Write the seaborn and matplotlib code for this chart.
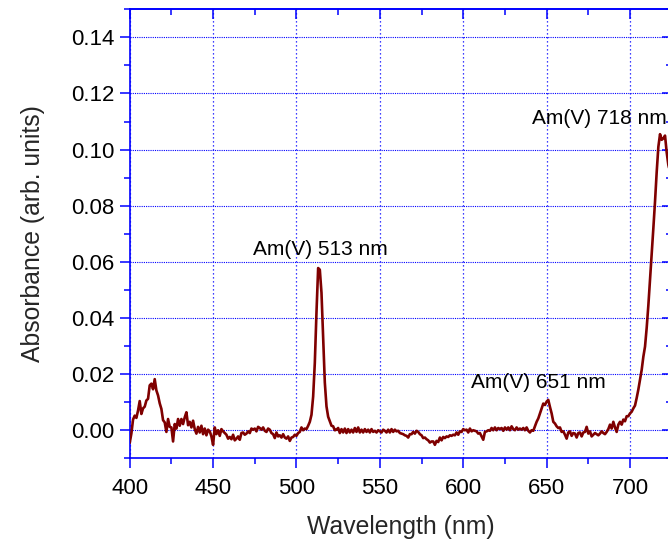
import numpy as np
import pandas as pd
import matplotlib
matplotlib.use("Agg")
import matplotlib.pyplot as plt
from matplotlib.ticker import MultipleLocator
import seaborn as sns

# Absorption spectrum of Am(V), sampled every 1 nm from 400 to 724 nm
wavelength_start = 400
absorbance = [
    # 400-409
    -0.0045, -0.0012, 0.0038, 0.0052, 0.0044, 0.0070, 0.0104, 0.0058, 0.0078, 0.0084,
    # 410-419
    0.0106, 0.0112, 0.0160, 0.0166, 0.0146, 0.0182, 0.0142, 0.0124, 0.0096, 0.0076,
    # 420-429
    0.0036, 0.0028, -0.0006, 0.0040, 0.0012, 0.0010, -0.0040, 0.0022, 0.0006, 0.0040,
    # 430-439
    0.0016, 0.0040, 0.0022, 0.0046, 0.0064, 0.0018, 0.0030, 0.0010, 0.0034, 0.0004,
    # 440-449
    -0.0012, 0.0012, -0.0008, 0.0016, -0.0014, 0.0006, -0.0018, 0.0002, -0.0004, -0.0022,
    # 450-459
    -0.0052, 0.0010, -0.0014, 0.0000, -0.0020, 0.0004, -0.0004, -0.0010, -0.0016, -0.0030,
    # 460-469
    -0.0024, -0.0032, -0.0016, -0.0036, -0.0030, -0.0022, -0.0034, -0.0010, -0.0008, -0.0016,
    # 470-479
    -0.0012, -0.0004, -0.0010, 0.0006, 0.0002, 0.0006, -0.0004, 0.0012, 0.0008, 0.0002,
    # 480-489
    0.0010, -0.0002, -0.0006, 0.0006, 0.0002, -0.0010, -0.0014, -0.0028, -0.0008, -0.0022,
    # 490-499
    -0.0018, -0.0026, -0.0014, -0.0026, -0.0030, -0.0022, -0.0038, -0.0026, -0.0024, -0.0016,
    # 500-509
    -0.0020, -0.0010, -0.0006, 0.0010, 0.0000, 0.0006, 0.0004, 0.0016, 0.0030, 0.0055,
    # 510-519
    0.0120, 0.0240, 0.0420, 0.0578, 0.0572, 0.0490, 0.0330, 0.0170, 0.0085, 0.0048,
    # 520-529
    0.0032, 0.0016, 0.0014, 0.0000, 0.0002, 0.0008, -0.0010, 0.0004, -0.0008, 0.0006,
    # 530-539
    -0.0010, 0.0004, -0.0008, 0.0002, -0.0008, 0.0008, -0.0006, 0.0010, -0.0008, 0.0002,
    # 540-549
    -0.0008, 0.0004, -0.0006, 0.0002, -0.0008, 0.0004, -0.0006, -0.0002, -0.0008, 0.0000,
    # 550-559
    -0.0004, -0.0008, 0.0002, -0.0002, -0.0008, 0.0002, -0.0008, 0.0004, -0.0006, 0.0002,
    # 560-569
    -0.0004, -0.0002, -0.0010, -0.0012, -0.0014, -0.0018, -0.0020, -0.0026, -0.0014, -0.0014,
    # 570-579
    -0.0006, -0.0012, -0.0002, -0.0006, -0.0014, -0.0018, -0.0028, -0.0026, -0.0032, -0.0036,
    # 580-589
    -0.0044, -0.0040, -0.0040, -0.0052, -0.0038, -0.0042, -0.0026, -0.0036, -0.0024, -0.0028,
    # 590-599
    -0.0022, -0.0024, -0.0018, -0.0020, -0.0016, -0.0018, -0.0008, -0.0016, -0.0004, -0.0006,
    # 600-609
    0.0004, 0.0000, 0.0002, -0.0008, 0.0006, -0.0004, 0.0000, -0.0002, -0.0004, -0.0012,
    # 610-619
    -0.0010, -0.0022, -0.0034, -0.0006, -0.0004, 0.0000, -0.0002, 0.0008, 0.0000, 0.0010,
    # 620-629
    0.0000, 0.0008, 0.0004, 0.0008, -0.0002, 0.0010, 0.0002, 0.0010, 0.0000, 0.0014,
    # 630-639
    0.0004, 0.0000, 0.0010, 0.0002, 0.0006, 0.0002, 0.0008, 0.0000, 0.0010, -0.0002,
    # 640-649
    -0.0008, 0.0000, -0.0002, 0.0014, 0.0030, 0.0042, 0.0060, 0.0078, 0.0095, 0.0090,
    # 650-659
    0.0102, 0.0108, 0.0083, 0.0060, 0.0030, 0.0024, 0.0014, 0.0008, 0.0010, -0.0006,
    # 660-669
    -0.0004, -0.0016, -0.0030, -0.0008, -0.0004, -0.0020, -0.0010, -0.0012, -0.0026, -0.0010,
    # 670-679
    -0.0008, -0.0022, -0.0008, -0.0006, 0.0012, -0.0012, -0.0004, -0.0022, -0.0016, -0.0010,
    # 680-689
    -0.0014, -0.0018, -0.0012, -0.0004, -0.0010, -0.0014, -0.0006, 0.0004, 0.0020, 0.0006,
    # 690-699
    0.0030, 0.0010, -0.0006, 0.0020, 0.0030, 0.0020, 0.0038, 0.0032, 0.0050, 0.0050,
    # 700-709
    0.0060, 0.0066, 0.0078, 0.0088, 0.0115, 0.0145, 0.0180, 0.0215, 0.0262, 0.0298,
    # 710-719
    0.0365, 0.0445, 0.0535, 0.0625, 0.0720, 0.0815, 0.0920, 0.1010, 0.1055, 0.1035,
    # 720-724
    0.1040, 0.1050, 0.0990, 0.0945, 0.0920,
]
wavelength = np.arange(wavelength_start, wavelength_start + len(absorbance))

# Peak annotations: text, x, y (data units)
peak_labels = ["Am(V) 513 nm", "Am(V) 651 nm", "Am(V) 718 nm"]
peak_label_x = [514.5, 645.0, 641.0]
peak_label_y = [0.0625, 0.0149, 0.1093]
peak_label_ha = ["center", "center", "left"]

x_ticks = [400, 450, 500, 550, 600, 650, 700]
y_ticks = [0.00, 0.02, 0.04, 0.06, 0.08, 0.10, 0.12, 0.14]

sns.set_theme(style="white")
plt.rcParams["font.family"] = ["Liberation Sans", "DejaVu Sans"]

AXIS_BLUE = "#0000ff"
CURVE = "#7f0000"

df = pd.DataFrame({"Wavelength (nm)": wavelength, "Absorbance": absorbance})

fig = plt.figure(figsize=(6.68, 5.41), dpi=100)
W, H = 668.0, 541.0
left_px, right_px, top_px, bottom_px = 129.7, 671.7, 9.3, 458.3
ax = fig.add_axes([left_px / W, 1 - bottom_px / H,
                   (right_px - left_px) / W, (bottom_px - top_px) / H])

sns.lineplot(data=df, x="Wavelength (nm)", y="Absorbance", ax=ax,
             color=CURVE, linewidth=1.9, zorder=3)

ax.set_xlim(400, 725)
ax.set_ylim(-0.01, 0.15)
ax.set_xticks(x_ticks)
ax.set_yticks(y_ticks)
ax.set_yticklabels([f"{v:.2f}" for v in y_ticks])
ax.xaxis.set_minor_locator(MultipleLocator(25))
ax.yaxis.set_minor_locator(MultipleLocator(0.01))

# dotted blue grid on the major ticks
ax.xaxis.grid(True, which="major", color=AXIS_BLUE, linestyle=(0, (1, 2.2)),
              linewidth=0.9, zorder=1)
ax.yaxis.grid(True, which="major", color=AXIS_BLUE, linestyle=(0, (1, 1)),
              linewidth=0.8, zorder=1)
ax.set_axisbelow(True)

for side in ["left", "bottom", "top", "right"]:
    ax.spines[side].set_color(AXIS_BLUE)
    ax.spines[side].set_linewidth(1.2)

ax.tick_params(axis="both", which="major", direction="out", length=7,
               width=1.1, color=AXIS_BLUE, labelsize=16, labelcolor="black")
ax.tick_params(axis="both", which="minor", direction="out", length=4,
               width=1.1, color=AXIS_BLUE)
ax.tick_params(axis="x", which="both", bottom=True, top=False, pad=7)
ax.tick_params(axis="y", which="both", left=True, right=False, pad=4)

# inward ticks on the top and right frame
top = ax.secondary_xaxis("top")
top.set_xticks(x_ticks)
top.xaxis.set_minor_locator(MultipleLocator(25))
top.tick_params(axis="x", which="major", direction="in", length=7, width=1.1,
                color=AXIS_BLUE, labeltop=False)
top.tick_params(axis="x", which="minor", direction="in", length=4, width=1.1,
                color=AXIS_BLUE)
top.spines["top"].set_color(AXIS_BLUE)
top.spines["top"].set_linewidth(1.2)

right = ax.secondary_yaxis("right")
right.set_yticks(y_ticks)
right.yaxis.set_minor_locator(MultipleLocator(0.01))
right.tick_params(axis="y", which="major", direction="in", length=7, width=1.1,
                  color=AXIS_BLUE, labelright=False)
right.tick_params(axis="y", which="minor", direction="in", length=4, width=1.1,
                  color=AXIS_BLUE)
right.spines["right"].set_color(AXIS_BLUE)
right.spines["right"].set_linewidth(1.2)

ax.set_xlabel("Wavelength (nm)", fontsize=17.8, labelpad=12)
ax.set_ylabel("Absorbance (arb. units)", fontsize=17.8, labelpad=19)

for text, x, y, ha in zip(peak_labels, peak_label_x, peak_label_y, peak_label_ha):
    ax.text(x, y, text, ha=ha, va="baseline", fontsize=15, color="black",
            zorder=4)

fig.savefig("out.png", dpi=100)
